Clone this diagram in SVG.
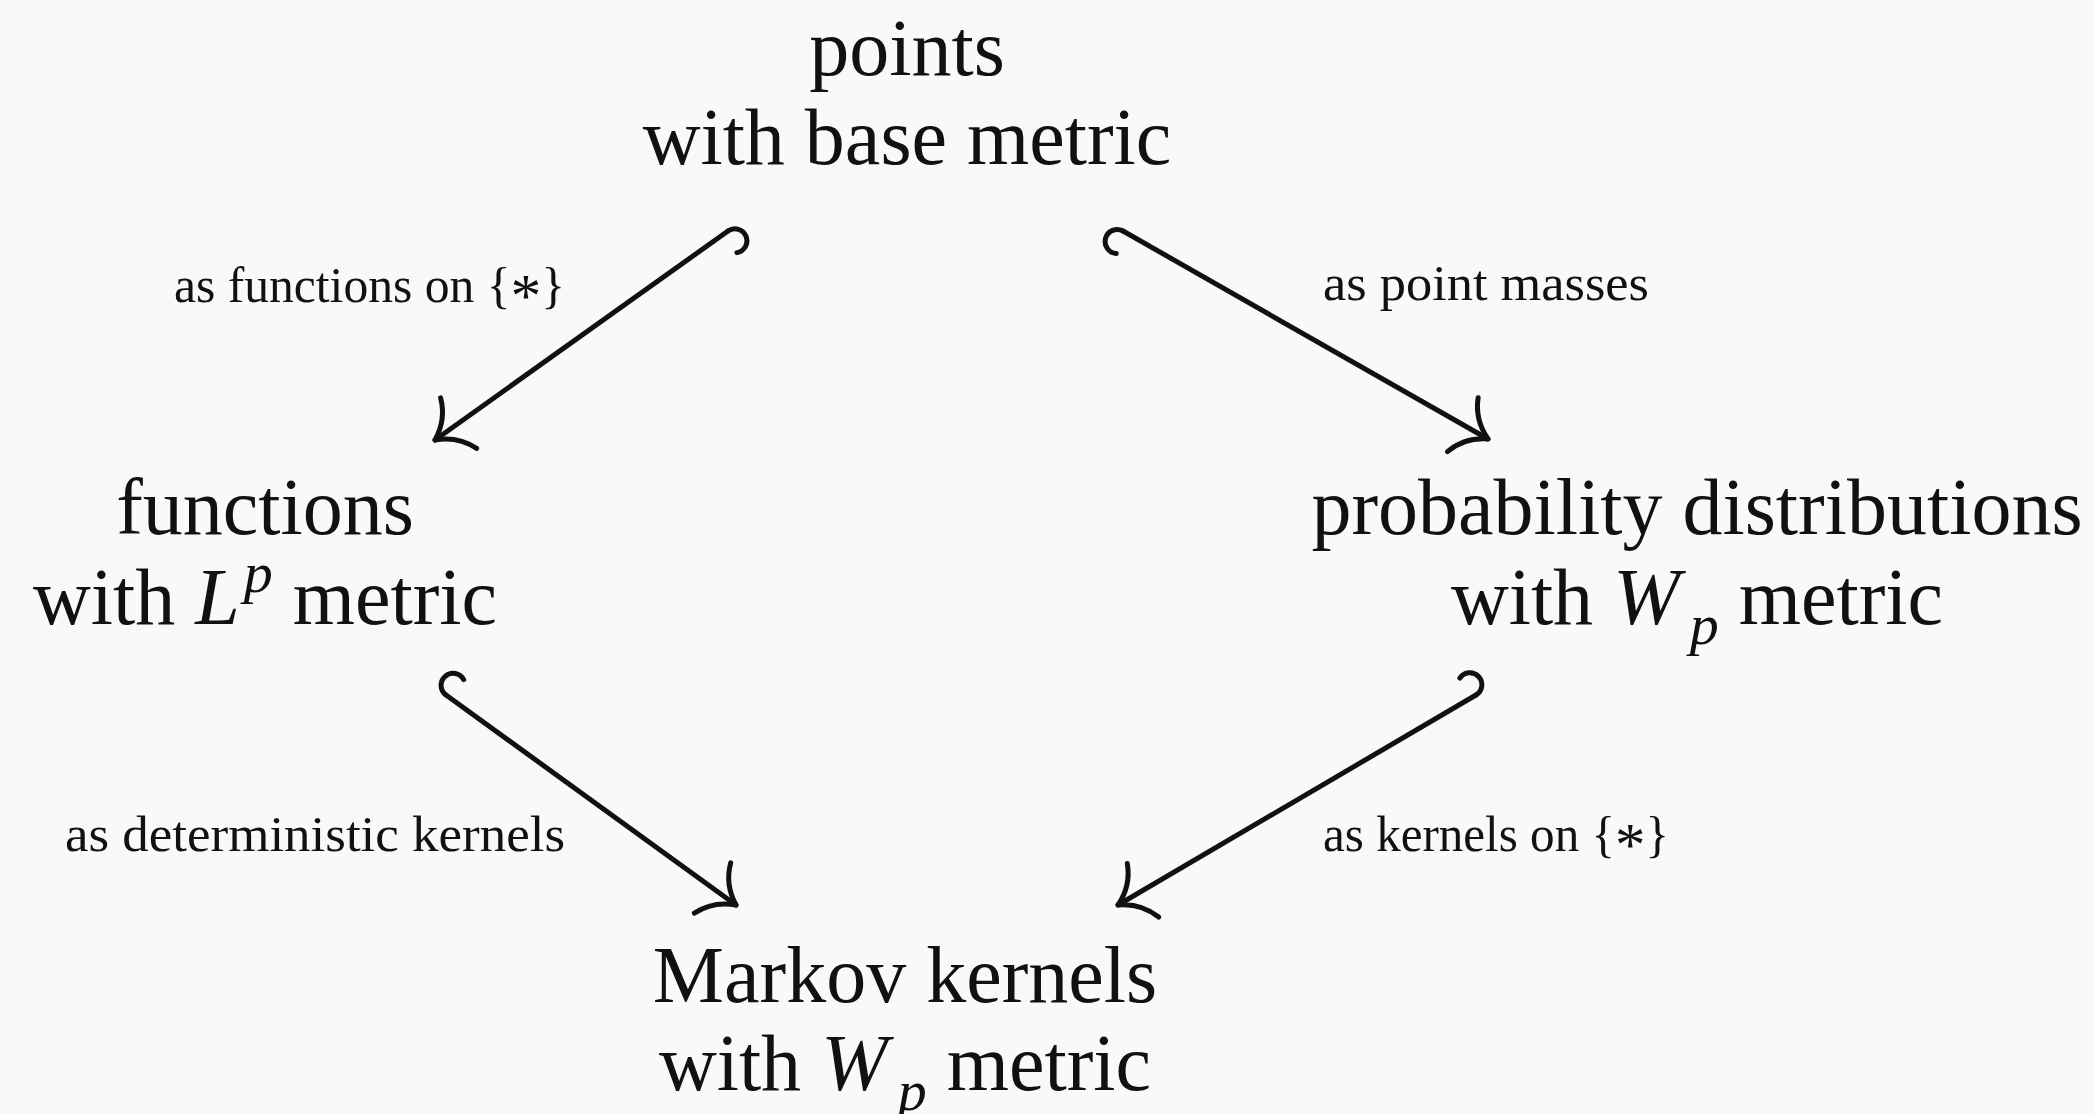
<svg xmlns="http://www.w3.org/2000/svg" width="2094" height="1114" viewBox="0 0 2094 1114">
<defs>
<style>
.node text{font-family:"Liberation Serif","Times New Roman",serif;font-size:80px;fill:#111;text-anchor:middle}
.lbl{font-family:"Liberation Serif","Times New Roman",serif;font-size:50px;fill:#111}
.ast{font-size:62px}
.it{font-style:italic}
.sm{font-size:58px}
.edge{stroke:#111;stroke-width:5;fill:none;stroke-linecap:round}
.mk{stroke:#111;stroke-width:5;fill:none;stroke-linecap:round;stroke-linejoin:round}
</style>
<marker id="head" markerUnits="userSpaceOnUse" orient="auto" refX="0" refY="0" markerWidth="1" markerHeight="1" style="overflow:visible">
<path class="mk" d="M-29,-31 Q-21,-10 0,0 Q-21,10 -29,31"/>
</marker>
<marker id="hookP" markerUnits="userSpaceOnUse" orient="auto" refX="0" refY="0" markerWidth="1" markerHeight="1" style="overflow:visible">
<path class="mk" d="M0,0 A12,12 0 1 0 5.3,22.8"/>
</marker>
<marker id="hookN" markerUnits="userSpaceOnUse" orient="auto" refX="0" refY="0" markerWidth="1" markerHeight="1" style="overflow:visible">
<path class="mk" d="M0,0 A12,12 0 1 1 5.3,-22.8"/>
</marker>
</defs>
<rect width="2094" height="1114" fill="#f9f9f9"/>
<g id="n-points" class="node">
<text x="907" y="75">points</text>
<text x="907" y="164">with base metric</text>
</g>
<g id="n-functions" class="node">
<text x="265" y="534">functions</text>
<text x="265" y="624">with <tspan class="it">L</tspan><tspan class="it sm" dx="4" dy="-32">p</tspan><tspan dy="32"> metric</tspan></text>
</g>
<g id="n-prob" class="node">
<text x="1697" y="534">probability distributions</text>
<text x="1697" y="624">with <tspan class="it">W</tspan><tspan class="it sm" dx="10" dy="20">p</tspan><tspan dy="-20"> metric</tspan></text>
</g>
<g id="n-markov" class="node">
<text x="905" y="1002">Markov kernels</text>
<text x="905" y="1090">with <tspan class="it">W</tspan><tspan class="it sm" dx="10" dy="20">p</tspan><tspan dy="-20"> metric</tspan></text>
</g>
<g id="edges">
<line class="edge" x1="728" y1="231" x2="435" y2="440" marker-start="url(#hookN)" marker-end="url(#head)"/>
<line class="edge" x1="1123" y1="231" x2="1488" y2="439" marker-start="url(#hookP)" marker-end="url(#head)"/>
<line class="edge" x1="446" y1="695" x2="736" y2="905" marker-start="url(#hookN)" marker-end="url(#head)"/>
<line class="edge" x1="1476" y1="695" x2="1118" y2="905" marker-start="url(#hookP)" marker-end="url(#head)"/>
<text class="lbl" x="174" y="302" textLength="391" lengthAdjust="spacingAndGlyphs">as functions on {<tspan class="ast" dy="14">*</tspan><tspan dy="-14">}</tspan></text>
<text class="lbl" x="1323" y="300" textLength="326" lengthAdjust="spacingAndGlyphs">as point masses</text>
<text class="lbl" x="65" y="851" textLength="500" lengthAdjust="spacingAndGlyphs">as deterministic kernels</text>
<text class="lbl" x="1323" y="851" textLength="346" lengthAdjust="spacingAndGlyphs">as kernels on {<tspan class="ast" dy="14">*</tspan><tspan dy="-14">}</tspan></text>
</g>
</svg>
